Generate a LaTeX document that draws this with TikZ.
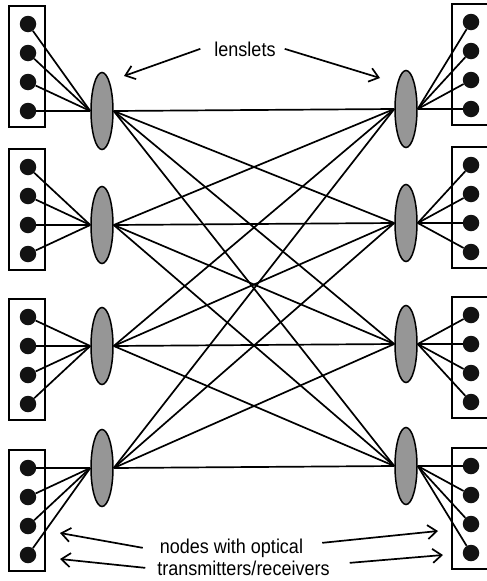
\documentclass[tikz,border=0pt]{standalone}
\usepackage{fontspec}
\setmainfont{Liberation Sans}[FakeStretch=0.9]
\usetikzlibrary{arrows.meta,shapes.geometric}
\definecolor{lensfill}{gray}{0.59}
\tikzset{
	port/.style={circle, fill=black!93, inner sep=0pt, minimum size=16.5pt},
	lens/.style={ellipse, draw, line width=1.5pt, fill=lensfill, inner sep=0pt, minimum width=22pt, minimum height=77pt},
	rack/.style={draw, line width=1.5pt, inner sep=0pt, minimum width=36pt, minimum height=121pt},
	ray/.style={line width=1.7pt},
	pointer/.style={line width=1.7pt, -{Straight Barb[length=9pt,width=14pt]}},
	caption/.style={inner sep=0pt, anchor=base, font=\fontsize{20}{24}\selectfont}
}

\begin{document}
\begin{tikzpicture}[x=1pt, y=-1pt]
		%%%%% START %%%%%
		\useasboundingbox (0,0) rectangle (487,581);
		
		% left racks, ports and lenslets
		\foreach \g/\yy in {1/6, 2/149, 3/299, 4/450}{
			\node[rack] (rackL\g) at (27, {\yy+60.5}) {};
			\node[lens] (lensL\g) at (102, {\yy+134-29*\g}) {};
			\foreach \k in {1,...,4}{
				\node[port] (portL\g\k) at (28, {\yy-11+29*\k}) {};
				\draw[ray] (portL\g\k) -- (lensL\g.west);
			}
		}
		
		% right racks, ports and lenslets
		\foreach \g/\yy in {1/4, 2/147, 3/297, 4/448}{
			\node[rack] (rackR\g) at (470, {\yy+60.5}) {};
			\node[lens] (lensR\g) at (406, {\yy+134-29*\g}) {};
			\foreach \k in {1,...,4}{
				\node[port] (portR\g\k) at (471, {\yy-11+29*\k}) {};
				\draw[ray] (lensR\g.east) -- (portR\g\k);
			}
		}
		
		% every left lenslet to every right lenslet
		\foreach \i in {1,...,4}
			\foreach \j in {1,...,4}
				\draw[ray] (lensL\i.east) -- (lensR\j.west);
		
		% labels
		\node[caption] (lenslbl) at (245, 56) {lenslets};
		\coordinate (lenstipL) at (124, 76);
		\coordinate (lenstipR) at (380, 78);
		\draw[pointer] ([xshift=-14pt]lenslbl.west) -- (lenstipL);
		\draw[pointer] ([xshift=9pt]lenslbl.east) -- (lenstipR);
		
		\node[caption] (nodelbl1) at (231.5, 553) {nodes with optical};
		\node[caption] (nodelbl2) at (243.5, 575) {transmitters/receivers};
		\coordinate (nodetipL1) at (60, 533);
		\coordinate (nodetipL2) at (60, 559);
		\coordinate (nodetipR1) at (438, 531);
		\coordinate (nodetipR2) at (443, 555);
		\draw[pointer] ([xshift=-17pt]nodelbl1.west) -- (nodetipL1);
		\draw[pointer] ([xshift=-12pt]nodelbl2.west) -- (nodetipL2);
		\draw[pointer] ([xshift=19pt,yshift=5pt]nodelbl1.east) -- (nodetipR1);
		\draw[pointer] ([xshift=20pt,yshift=5pt]nodelbl2.east) -- (nodetipR2);
		
		%%%%% END %%%%%
\end{tikzpicture}
\end{document}
